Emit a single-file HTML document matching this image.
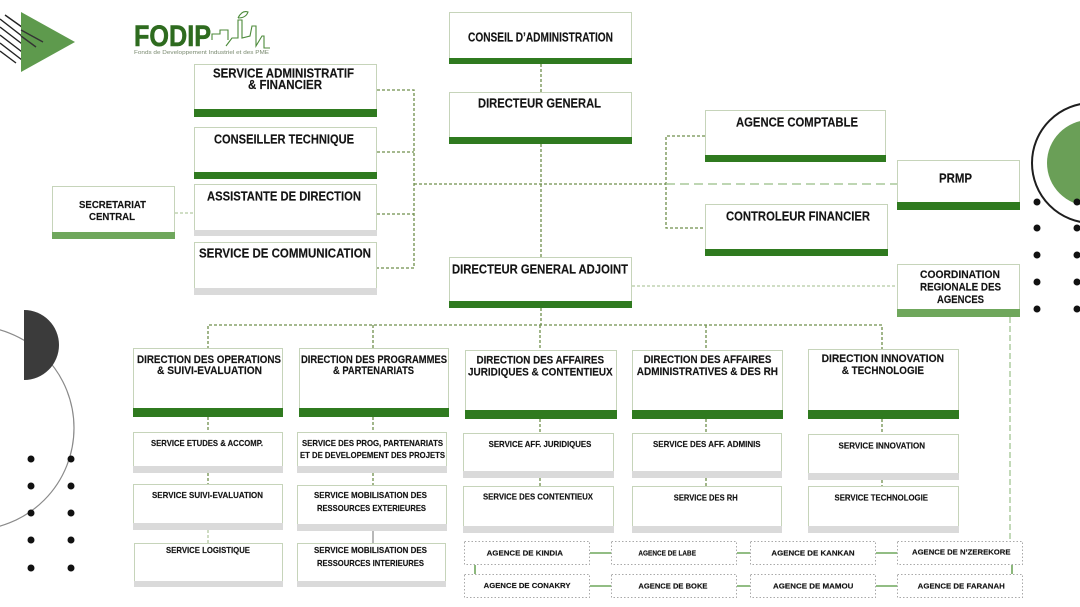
<!DOCTYPE html>
<html><head><meta charset="utf-8"><style>
html,body{margin:0;padding:0;background:#fff;}
svg{display:block;}
text{font-family:"Liberation Sans",Arial,sans-serif;font-weight:bold;fill:#141414;stroke:#141414;stroke-width:0.15;}
.bx{fill:#fff;stroke:#c6d4ba;stroke-width:1;}
.dg{fill:#2f7a1f;}
.lg{fill:#6fa75c;}
.gr{fill:#dadada;}
.cn{stroke:#6f8f4c;stroke-width:1.3;stroke-dasharray:3 2;fill:none;}
.cl{stroke:#b3c9a2;stroke-width:1.3;stroke-dasharray:3 2;fill:none;}
.ag{fill:#fff;stroke:#a9a9a9;stroke-width:1;stroke-dasharray:1.5 2;}
.gc{stroke:#6fa75c;stroke-width:1.6;fill:none;}
</style></head><body>
<svg width="1080" height="607" viewBox="0 0 1080 607" xmlns="http://www.w3.org/2000/svg">
<rect width="1080" height="607" fill="#fff"/>

<!-- decorations top-left -->
<g stroke="#222" stroke-width="1.4">
<line x1="5" y1="15" x2="43" y2="42"/>
<line x1="0" y1="19" x2="36" y2="47"/>
<line x1="0" y1="27" x2="30" y2="50"/>
<line x1="0" y1="35" x2="26" y2="55"/>
<line x1="0" y1="43" x2="22" y2="60"/>
<line x1="0" y1="51" x2="16" y2="63"/>
</g>
<polygon points="21,12 75,42 21,72" fill="#5e9a4d"/>
<g stroke="#333" stroke-width="1.4">
<line x1="21" y1="30" x2="43" y2="42"/>
<line x1="21" y1="36" x2="36" y2="47"/>
</g>

<!-- FODIP logo -->
<text x="134" y="46" font-size="30" textLength="77" lengthAdjust="spacingAndGlyphs" style="fill:#2e6b1f;stroke:#2e6b1f;stroke-width:0.6">FODIP</text>
<g stroke="#4c8a3a" stroke-width="1.1" fill="none">
<polyline points="212,40 212,34 220,34 220,30 228,30 228,40"/>
<polyline points="226,46 232,38 238,38 238,20 242,20 242,38 250,36 252,26 256,26 256,46 262,36 264,36 264,48 270,48"/>
<path d="M238,18 q4,-8 10,-6 q-2,6 -10,6"/>
</g>
<text x="134" y="54" font-size="5.2" textLength="135" lengthAdjust="spacingAndGlyphs" style="fill:#7a8a70;stroke:none;font-weight:normal">Fonds de Developpement Industriel et des PME</text>

<!-- right decorations -->
<circle cx="1092" cy="163" r="60" fill="none" stroke="#1e1e1e" stroke-width="2"/>
<circle cx="1090" cy="163" r="43" fill="#6a9f57"/>
<g fill="#111">
<circle cx="1037" cy="202" r="3.5"/><circle cx="1077" cy="202" r="3.5"/>
<circle cx="1037" cy="228" r="3.5"/><circle cx="1077" cy="228" r="3.5"/>
<circle cx="1037" cy="255" r="3.5"/><circle cx="1077" cy="255" r="3.5"/>
<circle cx="1037" cy="282" r="3.5"/><circle cx="1077" cy="282" r="3.5"/>
<circle cx="1037" cy="309" r="3.5"/><circle cx="1077" cy="309" r="3.5"/>
</g>

<!-- left decorations -->
<circle cx="-28" cy="428" r="102" fill="none" stroke="#8a8a8a" stroke-width="1.2"/>
<path d="M24,310 A35,35 0 0 1 24,380 Z" fill="#3b3b3b"/>
<g fill="#111">
<circle cx="31" cy="459" r="3.5"/><circle cx="71" cy="459" r="3.5"/>
<circle cx="31" cy="486" r="3.5"/><circle cx="71" cy="486" r="3.5"/>
<circle cx="31" cy="513" r="3.5"/><circle cx="71" cy="513" r="3.5"/>
<circle cx="31" cy="540" r="3.5"/><circle cx="71" cy="540" r="3.5"/>
<circle cx="31" cy="568" r="3.5"/><circle cx="71" cy="568" r="3.5"/>
</g>

<!-- connectors -->
<line class="cn" x1="541" y1="64" x2="541" y2="92"/>
<line class="cn" x1="541" y1="144" x2="541" y2="257"/>
<line class="cn" x1="541" y1="308" x2="541" y2="325"/>
<path class="cn" d="M377,90 H414 V268 H377 M377,152 H414 M377,214 H414 M414,184 H666 M705,136 H666 V228 H705"/>
<line x1="666" y1="184" x2="897" y2="184" stroke="#a9c99a" stroke-width="1.6" stroke-dasharray="9 5"/>
<line class="cl" x1="175" y1="213" x2="194" y2="213"/>
<line class="cl" x1="632" y1="286" x2="897" y2="286"/>
<line x1="1010" y1="317" x2="1010" y2="541" stroke="#a9c99a" stroke-width="1.4" stroke-dasharray="6 3"/>
<path class="cn" d="M208,349 V325 H882 V349 M373,325 V349 M540,325 V349 M706,325 V349"/>
<path class="cn" d="M208,417 V432 M373,417 V432 M540,419 V433 M706,419 V433 M882,419 V434"/>
<path class="cn" d="M208,473 V485 M373,473 V485 M540,478 V486 M706,478 V486 M882,480 V486"/>
<line class="cl" x1="208" y1="530" x2="208" y2="543"/>
<line x1="373" y1="531" x2="373" y2="543" stroke="#888" stroke-width="1.2"/>

<!-- top boxes -->
<rect class="bx" x="194.5" y="64.5" width="182" height="52"/><rect class="dg" x="194" y="109" width="183" height="8"/>
<rect class="bx" x="194.5" y="127.5" width="182" height="51"/><rect class="dg" x="194" y="172" width="183" height="7"/>
<rect class="bx" x="194.5" y="184.5" width="182" height="51"/><rect class="gr" x="194" y="230" width="183" height="6"/>
<rect class="bx" x="194.5" y="242.5" width="182" height="52"/><rect class="gr" x="194" y="288" width="183" height="7"/>
<rect class="bx" x="52.5" y="186.5" width="122" height="52"/><rect class="lg" x="52" y="232" width="123" height="7"/>
<rect class="bx" x="449.5" y="12.5" width="182" height="51"/><rect class="dg" x="449" y="58" width="183" height="6"/>
<rect class="bx" x="449.5" y="92.5" width="182" height="51"/><rect class="dg" x="449" y="137" width="183" height="7"/>
<rect class="bx" x="449.5" y="257.5" width="182" height="50"/><rect class="dg" x="449" y="301" width="183" height="7"/>
<rect class="bx" x="705.5" y="110.5" width="180" height="51"/><rect class="dg" x="705" y="155" width="181" height="7"/>
<rect class="bx" x="705.5" y="204.5" width="182" height="51"/><rect class="dg" x="705" y="249" width="183" height="7"/>
<rect class="bx" x="897.5" y="160.5" width="122" height="49"/><rect class="dg" x="897" y="202" width="123" height="8"/>
<rect class="bx" x="897.5" y="264.5" width="122" height="52"/><rect class="lg" x="897" y="309" width="123" height="8"/>

<!-- directions -->
<rect class="bx" x="133.5" y="348.5" width="149" height="68"/><rect class="dg" x="133" y="408" width="150" height="9"/>
<rect class="bx" x="299.5" y="348.5" width="149" height="68"/><rect class="dg" x="299" y="408" width="150" height="9"/>
<rect class="bx" x="465.5" y="350.5" width="151" height="68"/><rect class="dg" x="465" y="410" width="152" height="9"/>
<rect class="bx" x="632.5" y="350.5" width="150" height="68"/><rect class="dg" x="632" y="410" width="151" height="9"/>
<rect class="bx" x="808.5" y="349.5" width="150" height="69"/><rect class="dg" x="808" y="410" width="151" height="9"/>

<!-- services row 1 -->
<rect class="bx" x="133.5" y="432.5" width="149" height="40"/><rect class="gr" x="133" y="466" width="150" height="7"/>
<rect class="bx" x="297.5" y="432.5" width="149" height="40"/><rect class="gr" x="297" y="466" width="150" height="7"/>
<rect class="bx" x="463.5" y="433.5" width="150" height="44"/><rect class="gr" x="463" y="471" width="151" height="7"/>
<rect class="bx" x="632.5" y="433.5" width="149" height="44"/><rect class="gr" x="632" y="471" width="150" height="7"/>
<rect class="bx" x="808.5" y="434.5" width="150" height="45"/><rect class="gr" x="808" y="473" width="151" height="7"/>
<!-- row 2 -->
<rect class="bx" x="133.5" y="484.5" width="149" height="45"/><rect class="gr" x="133" y="523" width="150" height="7"/>
<rect class="bx" x="297.5" y="485.5" width="149" height="45"/><rect class="gr" x="297" y="524" width="150" height="7"/>
<rect class="bx" x="463.5" y="486.5" width="150" height="46"/><rect class="gr" x="463" y="526" width="151" height="7"/>
<rect class="bx" x="632.5" y="486.5" width="149" height="46"/><rect class="gr" x="632" y="526" width="150" height="7"/>
<rect class="bx" x="808.5" y="486.5" width="150" height="46"/><rect class="gr" x="808" y="526" width="151" height="7"/>
<!-- row 3 -->
<rect class="bx" x="134.5" y="543.5" width="148" height="43"/><rect class="gr" x="134" y="581" width="149" height="6"/>
<rect class="bx" x="297.5" y="543.5" width="148" height="43"/><rect class="gr" x="297" y="581" width="149" height="6"/>

<!-- agencies -->
<rect class="ag" x="464.5" y="541.5" width="125" height="23"/>
<rect class="ag" x="611.5" y="541.5" width="125" height="23"/>
<rect class="ag" x="750.5" y="541.5" width="125" height="23"/>
<rect class="ag" x="897.5" y="541.5" width="125" height="23"/>
<rect class="ag" x="464.5" y="574.5" width="125" height="23"/>
<rect class="ag" x="611.5" y="574.5" width="125" height="23"/>
<rect class="ag" x="750.5" y="574.5" width="125" height="23"/>
<rect class="ag" x="897.5" y="574.5" width="125" height="23"/>
<path class="gc" d="M590,553 H611 M737,553 H750 M876,553 H897 M590,586 H611 M737,586 H750 M876,586 H897 M475,565 V574 M1012,565 V574"/>

<!-- texts top -->
<text x="213" y="77.5" font-size="12.5" textLength="141" lengthAdjust="spacingAndGlyphs">SERVICE ADMINISTRATIF</text>
<text x="248" y="89" font-size="12.5" textLength="74" lengthAdjust="spacingAndGlyphs">&amp; FINANCIER</text>
<text x="214" y="143.5" font-size="12.5" textLength="140" lengthAdjust="spacingAndGlyphs">CONSEILLER TECHNIQUE</text>
<text x="207" y="200.5" font-size="12.5" textLength="154" lengthAdjust="spacingAndGlyphs">ASSISTANTE DE DIRECTION</text>
<text x="199" y="257.5" font-size="12.5" textLength="172" lengthAdjust="spacingAndGlyphs">SERVICE DE COMMUNICATION</text>
<text x="79" y="208" font-size="10.5" textLength="67" lengthAdjust="spacingAndGlyphs">SECRETARIAT</text>
<text x="89" y="220" font-size="10.5" textLength="46" lengthAdjust="spacingAndGlyphs">CENTRAL</text>
<text x="468" y="41.5" font-size="13" textLength="145" lengthAdjust="spacingAndGlyphs">CONSEIL D’ADMINISTRATION</text>
<text x="478" y="107.5" font-size="13" textLength="123" lengthAdjust="spacingAndGlyphs">DIRECTEUR GENERAL</text>
<text x="736" y="126.5" font-size="13" textLength="122" lengthAdjust="spacingAndGlyphs">AGENCE COMPTABLE</text>
<text x="726" y="220.5" font-size="13" textLength="144" lengthAdjust="spacingAndGlyphs">CONTROLEUR FINANCIER</text>
<text x="939" y="182.5" font-size="13" textLength="33" lengthAdjust="spacingAndGlyphs">PRMP</text>
<text x="452" y="273.5" font-size="13" textLength="176" lengthAdjust="spacingAndGlyphs">DIRECTEUR GENERAL ADJOINT</text>
<text x="920" y="278" font-size="11" textLength="80" lengthAdjust="spacingAndGlyphs">COORDINATION</text>
<text x="920" y="290.7" font-size="11" textLength="81" lengthAdjust="spacingAndGlyphs">REGIONALE DES</text>
<text x="937" y="303" font-size="11" textLength="47" lengthAdjust="spacingAndGlyphs">AGENCES</text>

<!-- direction texts -->
<text x="137" y="363" font-size="11" textLength="144" lengthAdjust="spacingAndGlyphs">DIRECTION DES OPERATIONS</text>
<text x="157" y="374" font-size="11" textLength="105" lengthAdjust="spacingAndGlyphs">&amp; SUIVI-EVALUATION</text>
<text x="301" y="363" font-size="11" textLength="146" lengthAdjust="spacingAndGlyphs">DIRECTION DES PROGRAMMES</text>
<text x="333" y="374" font-size="11" textLength="81" lengthAdjust="spacingAndGlyphs">&amp; PARTENARIATS</text>
<text x="476.5" y="363.3" font-size="11" textLength="127.5" lengthAdjust="spacingAndGlyphs">DIRECTION DES AFFAIRES</text>
<text x="468" y="375.7" font-size="11" textLength="144.7" lengthAdjust="spacingAndGlyphs">JURIDIQUES &amp; CONTENTIEUX</text>
<text x="643.6" y="363" font-size="11" textLength="127.8" lengthAdjust="spacingAndGlyphs">DIRECTION DES AFFAIRES</text>
<text x="636.8" y="375" font-size="11" textLength="141.2" lengthAdjust="spacingAndGlyphs">ADMINISTRATIVES &amp; DES RH</text>
<text x="821.6" y="362" font-size="11" textLength="122.4" lengthAdjust="spacingAndGlyphs">DIRECTION INNOVATION</text>
<text x="841.7" y="374" font-size="11" textLength="82.3" lengthAdjust="spacingAndGlyphs">&amp; TECHNOLOGIE</text>

<!-- service texts -->
<text x="151" y="446" font-size="8.5" textLength="112" lengthAdjust="spacingAndGlyphs">SERVICE ETUDES &amp; ACCOMP.</text>
<text x="302" y="446" font-size="8.5" textLength="141" lengthAdjust="spacingAndGlyphs">SERVICE DES PROG, PARTENARIATS</text>
<text x="300" y="458" font-size="8.5" textLength="145" lengthAdjust="spacingAndGlyphs">ET DE DEVELOPEMENT DES PROJETS</text>
<text x="152" y="498" font-size="8.5" textLength="111" lengthAdjust="spacingAndGlyphs">SERVICE SUIVI-EVALUATION</text>
<text x="314" y="498" font-size="8.5" textLength="113" lengthAdjust="spacingAndGlyphs">SERVICE MOBILISATION DES</text>
<text x="317" y="511" font-size="8.5" textLength="109" lengthAdjust="spacingAndGlyphs">RESSOURCES EXTERIEURES</text>
<text x="166" y="553" font-size="8.5" textLength="84" lengthAdjust="spacingAndGlyphs">SERVICE LOGISTIQUE</text>
<text x="314" y="553" font-size="8.5" textLength="113" lengthAdjust="spacingAndGlyphs">SERVICE MOBILISATION DES</text>
<text x="317" y="566" font-size="8.5" textLength="107" lengthAdjust="spacingAndGlyphs">RESSOURCES INTERIEURES</text>
<text x="488.6" y="447" font-size="8.5" textLength="102.8" lengthAdjust="spacingAndGlyphs">SERVICE AFF. JURIDIQUES</text>
<text x="653" y="447" font-size="8.5" textLength="107.6" lengthAdjust="spacingAndGlyphs">SERVICE DES AFF. ADMINIS</text>
<text x="838.5" y="448.7" font-size="8.5" textLength="86.5" lengthAdjust="spacingAndGlyphs">SERVICE INNOVATION</text>
<text x="483" y="499.7" font-size="8.5" textLength="110" lengthAdjust="spacingAndGlyphs">SERVICE DES CONTENTIEUX</text>
<text x="673.8" y="500.7" font-size="8.5" textLength="63.9" lengthAdjust="spacingAndGlyphs">SERVICE DES RH</text>
<text x="834.5" y="500.7" font-size="8.5" textLength="93.5" lengthAdjust="spacingAndGlyphs">SERVICE TECHNOLOGIE</text>

<!-- agency texts -->
<text x="486.6" y="555.5" font-size="7.5" textLength="76.4" lengthAdjust="spacingAndGlyphs">AGENCE DE KINDIA</text>
<text x="638.4" y="555.5" font-size="7.5" textLength="57.6" lengthAdjust="spacingAndGlyphs">AGENCE DE LABE</text>
<text x="771.4" y="555.5" font-size="7.5" textLength="83.2" lengthAdjust="spacingAndGlyphs">AGENCE DE KANKAN</text>
<text x="912" y="554.5" font-size="7.5" textLength="98.5" lengthAdjust="spacingAndGlyphs">AGENCE DE N’ZEREKORE</text>
<text x="483.7" y="588" font-size="7.5" textLength="86.8" lengthAdjust="spacingAndGlyphs">AGENCE DE CONAKRY</text>
<text x="638.4" y="588.7" font-size="7.5" textLength="69.1" lengthAdjust="spacingAndGlyphs">AGENCE DE BOKE</text>
<text x="773" y="588.7" font-size="7.5" textLength="80.4" lengthAdjust="spacingAndGlyphs">AGENCE DE MAMOU</text>
<text x="917.7" y="588.7" font-size="7.5" textLength="87.1" lengthAdjust="spacingAndGlyphs">AGENCE DE FARANAH</text>
</svg>
</body></html>
